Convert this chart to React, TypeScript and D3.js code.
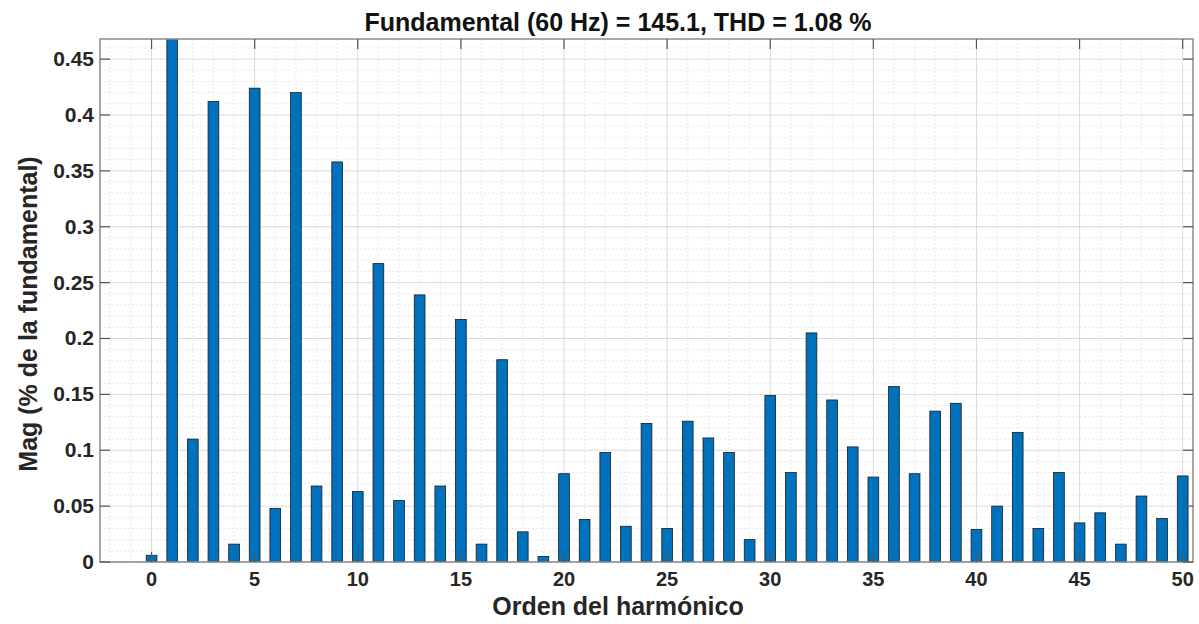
import { useEffect, useRef } from 'react'
import * as d3 from 'd3'

// harmonic orders 0..50
const orders: number[] = Array.from({ length: 51 }, (_, i) => i)

// Mag (% of fundamental); order 1 is the fundamental (clipped)
const magnitudes: number[] = [
  0.006, 100, 0.11, 0.412, 0.016, 0.424, 0.048, 0.42, 0.068, 0.358,
  0.063, 0.267, 0.055, 0.239, 0.068, 0.217, 0.016, 0.181, 0.027, 0.005,
  0.079, 0.038, 0.098, 0.032, 0.124, 0.03, 0.126, 0.111, 0.098, 0.02,
  0.149, 0.08, 0.205, 0.145, 0.103, 0.076, 0.157, 0.079, 0.135, 0.142,
  0.029, 0.05, 0.116, 0.03, 0.08, 0.035, 0.044, 0.016, 0.059, 0.039,
  0.077,
]

const xTicks: number[] = [0, 5, 10, 15, 20, 25, 30, 35, 40, 45, 50]
const yTicks: number[] = [0, 0.05, 0.1, 0.15, 0.2, 0.25, 0.3, 0.35, 0.4, 0.45]
const yTickLabels: string[] = ['0', '0.05', '0.1', '0.15', '0.2', '0.25', '0.3', '0.35', '0.4', '0.45']

const TITLE = 'Fundamental (60 Hz) = 145.1, THD = 1.08 %'
const X_LABEL = 'Orden del harmónico'
const Y_LABEL = 'Mag (% de la fundamental)'

export default function App() {
  const svgRef = useRef<SVGSVGElement>(null)

  useEffect(() => {
    document.body.style.margin = '0'
    if (!svgRef.current) return
    const svg = d3.select(svgRef.current)
    svg.selectAll('*').remove()

    const width = 1199
    const height = 624
    const m = { left: 100, right: 6, top: 39, bottom: 62 }
    const pw = width - m.left - m.right
    const ph = height - m.top - m.bottom
    const font = '"Liberation Sans", Arial, sans-serif'
    const labelCx = 618

    const x = d3.scaleLinear().domain([-2.5, 50.5]).range([m.left, m.left + pw])
    const y = d3.scaleLinear().domain([0, 0.468]).range([m.top + ph, m.top])

    svg.append('rect').attr('width', width).attr('height', height).attr('fill', 'white')

    const defs = svg.append('defs')
    defs.append('clipPath').attr('id', 'plot-clip')
      .append('rect')
      .attr('x', m.left).attr('y', m.top).attr('width', pw).attr('height', ph)

    const grid = svg.append('g')

    // minor grid
    const xMinor = d3.range(-2, 51, 1).filter((v) => v % 5 !== 0)
    const yMinor = d3.range(0.01, 0.468, 0.01).filter((v) => Math.abs(v / 0.05 - Math.round(v / 0.05)) > 1e-6)
    grid.selectAll('line.xm').data(xMinor).enter().append('line')
      .attr('x1', (d) => x(d)).attr('x2', (d) => x(d))
      .attr('y1', m.top).attr('y2', m.top + ph)
      .attr('stroke', '#e8e8e8').attr('stroke-width', 1).attr('stroke-dasharray', '2,2')
    grid.selectAll('line.ym').data(yMinor).enter().append('line')
      .attr('x1', m.left).attr('x2', m.left + pw)
      .attr('y1', (d) => y(d)).attr('y2', (d) => y(d))
      .attr('stroke', '#e8e8e8').attr('stroke-width', 1).attr('stroke-dasharray', '2,2')

    // major grid
    grid.selectAll('line.xg').data(xTicks).enter().append('line')
      .attr('x1', (d) => x(d)).attr('x2', (d) => x(d))
      .attr('y1', m.top).attr('y2', m.top + ph)
      .attr('stroke', '#dadada').attr('stroke-width', 1)
    grid.selectAll('line.yg').data(yTicks).enter().append('line')
      .attr('x1', m.left).attr('x2', m.left + pw)
      .attr('y1', (d) => y(d)).attr('y2', (d) => y(d))
      .attr('stroke', '#dadada').attr('stroke-width', 1)

    // bars
    const bw = (x(0.52) - x(0))
    svg.append('g').attr('clip-path', 'url(#plot-clip)')
      .selectAll('rect')
      .data(orders)
      .enter()
      .append('rect')
      .attr('x', (d) => x(d) - bw / 2)
      .attr('width', bw)
      .attr('y', (d) => y(magnitudes[d]))
      .attr('height', (d) => y(0) - y(magnitudes[d]))
      .attr('fill', '#0072BD')
      .attr('stroke', '#1a1a1a')
      .attr('stroke-width', 0.8)

    // box
    svg.append('rect')
      .attr('x', m.left).attr('y', m.top).attr('width', pw).attr('height', ph)
      .attr('fill', 'none').attr('stroke', '#8a8a8a').attr('stroke-width', 1.5)

    // ticks (inside, all sides)
    const tl = 10
    const ticks = svg.append('g').attr('stroke', '#555').attr('stroke-width', 1.2)
    xTicks.forEach((t) => {
      ticks.append('line').attr('x1', x(t)).attr('x2', x(t)).attr('y1', m.top + ph).attr('y2', m.top + ph - tl)
      ticks.append('line').attr('x1', x(t)).attr('x2', x(t)).attr('y1', m.top).attr('y2', m.top + tl)
    })
    yTicks.forEach((t) => {
      ticks.append('line').attr('x1', m.left).attr('x2', m.left + tl).attr('y1', y(t)).attr('y2', y(t))
      ticks.append('line').attr('x1', m.left + pw).attr('x2', m.left + pw - tl).attr('y1', y(t)).attr('y2', y(t))
    })

    // tick labels
    svg.append('g').selectAll('text')
      .data(xTicks)
      .enter()
      .append('text')
      .attr('x', (d) => x(d))
      .attr('y', m.top + ph + 24)
      .attr('text-anchor', 'middle')
      .attr('font-family', font)
      .attr('font-weight', 'bold')
      .attr('font-size', '20px')
      .attr('fill', '#262626')
      .text((d) => String(d))

    svg.append('g').selectAll('text')
      .data(yTicks)
      .enter()
      .append('text')
      .attr('x', m.left - 6)
      .attr('y', (d) => y(d) + 7)
      .attr('text-anchor', 'end')
      .attr('font-family', font)
      .attr('font-weight', 'bold')
      .attr('font-size', '21px')
      .attr('fill', '#262626')
      .text((_, i) => yTickLabels[i])

    // title + axis labels
    svg.append('text')
      .attr('x', labelCx)
      .attr('y', 31)
      .attr('text-anchor', 'middle')
      .attr('font-family', font)
      .attr('font-weight', 'bold')
      .attr('font-size', '25px')
      .attr('fill', '#111')
      .text(TITLE)

    svg.append('text')
      .attr('x', labelCx)
      .attr('y', 615)
      .attr('text-anchor', 'middle')
      .attr('font-family', font)
      .attr('font-weight', 'bold')
      .attr('font-size', '25px')
      .attr('fill', '#262626')
      .text(X_LABEL)

    svg.append('text')
      .attr('transform', `translate(37, 314) rotate(-90)`)
      .attr('text-anchor', 'middle')
      .attr('font-family', font)
      .attr('font-weight', 'bold')
      .attr('font-size', '25px')
      .attr('fill', '#262626')
      .text(Y_LABEL)
  }, [])

  return (
    <svg ref={svgRef} width={1199} height={624} style={{ display: 'block' }} />
  )
}
